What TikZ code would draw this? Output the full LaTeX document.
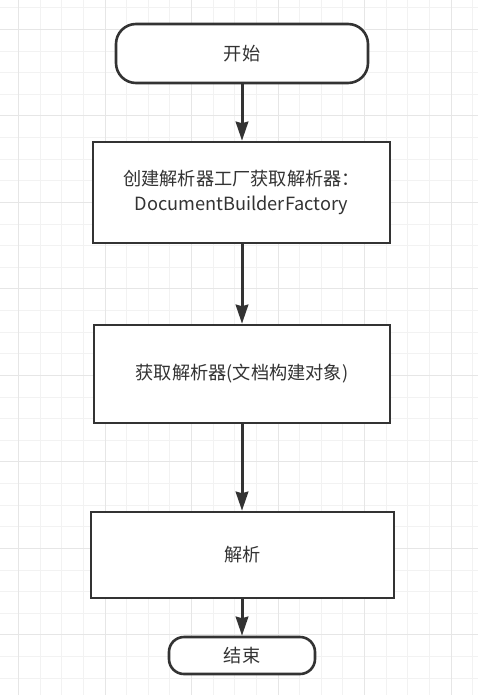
\documentclass[tikz,border=0pt]{standalone}
\usepackage{fontspec}
\setmainfont{Noto Sans CJK SC}
\usetikzlibrary{arrows.meta}
\definecolor{gridminor}{HTML}{F2F2F2}
\definecolor{gridmajor}{HTML}{E6E6E6}
\definecolor{inkgray}{HTML}{333333}
\begin{document}
\begin{tikzpicture}[x=1pt, y=-1pt,
    startstop/.style={draw=inkgray, line width=2.6pt, fill=white, rounded corners=20pt, text=inkgray, font=\fontsize{18.2}{24}\selectfont, inner sep=0pt},
    process/.style={draw=inkgray, line width=2.6pt, fill=white, text=inkgray, font=\fontsize{18.2}{25}\selectfont, align=center, inner sep=0pt},
    arrow/.style={draw=inkgray, line width=3pt, -{Stealth[length=19pt, width=12.5pt, inset=1.5pt]}}]
	% background and grid
	\fill[white] (0,0) rectangle (478,695);
	\useasboundingbox (0,0) rectangle (478,695);
	\foreach \i in {0,...,22} {
		\draw[gridminor, line width=1pt] ({-3+21.62*\i},0) -- ({-3+21.62*\i},695);
	}
	\foreach \i in {0,...,32} {
		\draw[gridminor, line width=1pt] (0,{7.9+21.62*\i}) -- (478,{7.9+21.62*\i});
	}
	\foreach \i in {0,...,5} {
		\draw[gridmajor, line width=1pt] ({18.6+86.48*\i},0) -- ({18.6+86.48*\i},695);
	}
	\foreach \i in {0,...,7} {
		\draw[gridmajor, line width=1pt] (0,{29.5+86.48*\i}) -- (478,{29.5+86.48*\i});
	}
	% draw nodes
	\node[startstop, minimum width=252pt, minimum height=59pt] (start) at (242,53.5) {开始};
	\node[process, minimum width=297pt, minimum height=101pt] (factory) at (241.5,192.5) {创建解析器工厂获取解析器：\\DocumentBuilderFactory};
	\node[process, minimum width=296pt, minimum height=98pt] (builder) at (242,374) {获取解析器(文档构建对象)};
	\node[process, minimum width=303pt, minimum height=86pt] (parse) at (242.5,555) {解析};
	\node[startstop, rounded corners=15pt, minimum width=146pt, minimum height=37pt] (stop) at (242,655.5) {结束};
	% draw arrows
	\draw[arrow] (start.south -| 242,0) -- (factory.north -| 242,0);
	\draw[arrow] (factory.south -| 242,0) -- (builder.north -| 242,0);
	\draw[arrow] (builder.south -| 242,0) -- (parse.north -| 242,0);
	\draw[arrow] (parse.south -| 242,0) -- (stop.north -| 242,0);
\end{tikzpicture}
\end{document}
